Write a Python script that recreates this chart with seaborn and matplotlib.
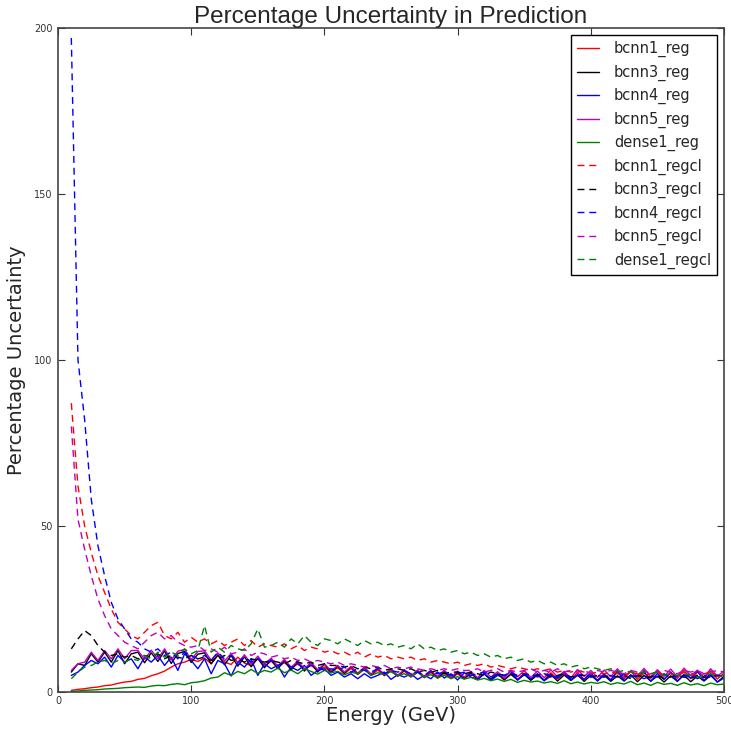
import numpy as np
import pandas as pd
import matplotlib
matplotlib.use("Agg")
import matplotlib.pyplot as plt
import seaborn as sns

# Energy grid (GeV)
energy = np.arange(10, 501, 5)

# Percentage uncertainty per model: regression heads (solid)
bcnn1_reg = [
    0.5, 0.8, 1.0, 1.3, 1.5, 1.9, 2.1, 2.6, 3.0, 3.2,
    3.8, 4.1, 4.9, 5.5, 6.3, 7.5, 8.5, 9.0, 9.8, 9.2,
    10.2, 8.5, 11.0, 9.0, 8.3, 10.5, 8.7, 8.0, 10.1, 7.7,
    9.3, 7.4, 8.9, 7.0, 8.5, 6.7, 8.1, 6.3, 7.5, 6.0,
    7.3, 5.5, 7.1, 5.3, 6.8, 5.0, 6.6, 4.9, 6.4, 4.7,
    6.3, 4.5, 6.1, 4.3, 5.9, 4.1, 5.7, 4.0, 5.5, 3.9,
    5.6, 3.8, 5.4, 3.7, 5.5, 3.6, 5.3, 3.8, 5.7, 3.7,
    5.4, 3.6, 5.8, 3.9, 5.5, 3.5, 5.9, 3.8, 5.3, 3.6,
    5.5, 3.7, 6.0, 4.0, 6.3, 3.8, 5.7, 4.1, 6.5, 3.9,
    5.8, 4.1, 6.6, 4.0, 6.0, 4.3, 6.4, 3.9, 5.7,
]
bcnn3_reg = [
    6.0, 8.5, 8.0, 11.5, 9.0, 12.0, 9.0, 12.5, 8.5, 11.5,
    12.0, 8.8, 11.8, 9.2, 12.4, 8.6, 11.6, 12.2, 8.9, 11.4,
    11.8, 8.5, 11.2, 8.2, 11.0, 7.8, 10.6, 7.6, 10.2, 7.3,
    9.8, 7.0, 9.5, 6.6, 9.2, 6.3, 8.8, 6.0, 8.4, 5.8,
    7.8, 5.7, 7.6, 5.4, 7.4, 5.2, 7.1, 5.1, 6.9, 4.9,
    6.6, 4.8, 6.5, 4.5, 6.3, 4.3, 6.1, 4.2, 5.9, 4.1,
    5.8, 3.9, 5.6, 3.8, 5.5, 3.7, 5.4, 3.6, 5.3, 3.5,
    5.2, 3.4, 5.3, 3.3, 5.1, 3.5, 5.2, 3.2, 5.0, 3.4,
    5.1, 3.2, 4.9, 3.3, 5.2, 3.1, 5.0, 3.3, 4.8, 3.0,
    4.9, 3.2, 5.1, 3.1, 4.8, 3.3, 5.0, 3.0, 4.7,
]
bcnn4_reg = [
    5.0, 6.0, 8.0, 9.5, 8.5, 10.5, 7.5, 11.0, 9.0, 10.0,
    7.0, 10.5, 9.0, 11.0, 8.0, 10.5, 6.5, 11.5, 9.5, 7.0,
    10.0, 5.5, 9.5, 8.5, 4.8, 9.0, 7.5, 10.0, 5.0, 8.5,
    7.0, 8.0, 4.5, 7.5, 6.5, 8.0, 5.0, 6.5, 7.0, 5.0,
    6.0, 4.5, 5.5, 4.0, 5.5, 4.2, 5.0, 6.0, 3.8, 5.2,
    4.5, 5.5, 3.8, 5.0, 4.0, 6.0, 4.2, 5.5, 3.6, 5.8,
    4.5, 3.8, 5.5, 3.5, 5.0, 4.4, 6.2, 3.6, 5.3, 4.0,
    5.5, 3.4, 4.8, 4.2, 6.0, 3.5, 5.0, 3.8, 5.8, 3.3,
    5.2, 3.6, 6.4, 3.4, 5.0, 4.5, 6.2, 3.2, 5.6, 3.8,
    6.0, 3.3, 5.4, 4.2, 6.3, 3.5, 5.5, 3.0, 4.2,
]
bcnn5_reg = [
    6.5, 8.5, 9.0, 12.0, 9.5, 12.5, 10.0, 13.0, 10.0, 12.5,
    12.5, 9.8, 12.6, 10.0, 13.0, 9.6, 12.3, 12.8, 9.8, 12.2,
    12.4, 9.6, 11.8, 9.3, 11.6, 8.8, 11.2, 8.5, 10.8, 8.3,
    10.2, 7.8, 9.8, 7.4, 9.3, 7.0, 8.9, 6.7, 8.5, 6.4,
    8.0, 6.0, 7.7, 5.7, 7.4, 5.4, 7.1, 5.3, 6.9, 5.0,
    6.7, 4.8, 6.6, 4.6, 6.4, 4.7, 6.6, 4.4, 6.3, 4.5,
    6.2, 4.3, 6.5, 4.5, 6.1, 4.2, 6.6, 4.6, 6.4, 4.4,
    6.3, 4.3, 6.7, 4.5, 6.2, 4.2, 6.8, 4.7, 6.5, 4.4,
    6.6, 4.6, 7.0, 4.4, 6.4, 4.8, 7.1, 4.5, 6.7, 4.7,
    6.9, 4.5, 7.2, 4.9, 6.6, 4.4, 7.0, 4.7, 6.4,
]
dense1_reg = [
    0.2, 0.3, 0.5, 0.6, 0.7, 0.9, 1.0, 1.1, 1.3, 1.4,
    1.5, 1.4, 1.8, 2.0, 1.9, 2.3, 2.5, 2.2, 2.8, 3.0,
    3.4, 4.2, 4.5, 5.8, 5.0, 6.2, 5.5, 6.8, 5.6, 6.5,
    6.0, 7.2, 5.8, 6.6, 5.5, 7.0, 6.2, 5.4, 6.5, 5.8,
    6.2, 5.2, 6.0, 5.5, 6.8, 5.0, 5.8, 5.3, 6.1, 4.9,
    5.5, 4.6, 5.9, 4.5, 5.2, 4.3, 5.0, 4.1, 4.6, 3.9,
    4.4, 3.6, 4.1, 3.4, 3.9, 3.2, 3.8, 2.9, 3.5, 3.0,
    3.3, 2.7, 3.1, 2.6, 3.4, 2.5, 3.0, 2.4, 2.9, 2.6,
    3.1, 2.3, 2.8, 2.4, 3.2, 2.2, 2.7, 2.0, 2.9, 2.3,
    2.6, 2.0, 2.8, 2.1, 2.5, 1.9, 2.7, 2.2, 2.4,
]

# Regression + classification heads (dashed)
bcnn1_regcl = [
    87, 62, 50, 42, 35, 30, 25, 21, 19, 17,
    16, 18, 20, 21, 17, 16, 18, 15, 16.5, 15,
    16, 14.5, 15.5, 14, 15, 16, 14, 15.5, 13.5, 14.5,
    14, 13.5, 14.5, 13, 14, 12.5, 13.5, 13, 12, 12.5,
    11.5, 12, 11, 12, 10.5, 11.5, 10.5, 11, 10, 10.5,
    10, 10.5, 9.5, 10, 9, 9.5, 9, 8.5, 9, 8,
    8.5, 8, 8.5, 7.5, 8, 7.5, 7, 7.5, 7, 6.5,
    7, 6.5, 7, 6, 6.5, 6, 6.5, 6, 5.5, 6,
    5.5, 6, 5.5, 5, 6, 5.5, 5, 5.5, 6, 5,
    5.5, 5, 6, 5.5, 5, 5.5, 6, 5, 5.5,
]
bcnn3_regcl = [
    13, 16, 18.5, 17, 14, 12, 11, 11.5, 10.5, 11,
    10, 11, 10.5, 11.5, 10, 11, 10.5, 10, 11, 10,
    10.5, 9.5, 10, 11, 9.5, 10, 9, 10, 9.5, 9,
    9.5, 9, 8.5, 9.5, 9, 8.5, 9, 8, 8.5, 8,
    8, 7.5, 8, 7, 7.5, 7, 7.5, 6.5, 7, 7,
    6.5, 7, 6, 6.5, 6, 6.5, 5.5, 6, 6, 5.5,
    6, 5.5, 5, 6, 5.5, 5, 5.5, 5, 5.5, 5,
    5, 5.5, 4.5, 5, 5.5, 4.5, 5, 5, 4.5, 5,
    4.5, 5, 4.5, 5, 4, 5, 4.5, 4.5, 5, 4,
    4.5, 5, 4.5, 4, 5, 4.5, 4.5, 5, 4.5,
]
bcnn4_regcl = [
    197, 100, 82, 58, 44, 35, 27, 22, 19, 16,
    15, 13, 12, 13, 11, 12, 10, 12, 11, 10,
    11, 9.5, 12, 10, 11, 9, 10.5, 9, 10, 8.5,
    9.5, 8, 9, 7.5, 8.5, 7, 8, 7.5, 6.5, 7,
    6.5, 7.5, 6, 7, 6.5, 6, 7, 5.5, 6.5, 6,
    6.5, 5.5, 6, 5, 6.5, 5.5, 6, 5, 5.5, 6,
    5, 5.5, 6, 4.5, 5.5, 5, 6, 4.5, 5, 5.5,
    4.5, 5.5, 5, 4.5, 5.5, 4, 5, 5.5, 4.5, 5,
    4.5, 5, 4, 5.5, 4.5, 5, 4, 5, 4.5, 5.5,
    4, 5, 4.5, 5.5, 4, 5, 4.5, 5, 4.5,
]
bcnn5_regcl = [
    80, 52, 43, 35, 28, 23, 19, 17, 15, 14,
    13, 15, 17, 18, 16, 17, 15, 14, 13.5, 14,
    12.5, 13, 12, 13.5, 11.5, 12, 13, 11, 12, 11.5,
    10.5, 11, 10, 10.5, 9.5, 10, 9, 9.5, 9, 8.5,
    9, 8, 8.5, 8, 7.5, 8, 7.5, 8, 7, 7.5,
    7, 7.5, 7, 6.5, 7, 6.5, 7, 6.5, 7, 6.5,
    6.5, 7, 6, 6.5, 7, 6, 6.5, 6, 6.5, 7,
    6, 6.5, 6, 7, 6, 6.5, 6, 6.5, 5.5, 6.5,
    6, 6.5, 6, 5.5, 6.5, 6, 6.5, 5.5, 6, 6.5,
    6, 5.5, 6.5, 6, 6.5, 5.5, 6, 6.5, 6,
]
dense1_regcl = [
    4, 6, 7.5, 8, 9, 9.5, 8.5, 9.5, 9, 10,
    9.5, 11, 10, 12, 10.5, 12, 11, 13, 11.5, 12.5,
    20, 12, 13.5, 12, 14, 13, 12.5, 14.5, 19, 13.5,
    14, 15, 13.5, 16, 14.5, 17, 15, 14, 16, 15.5,
    14.5, 16, 15, 14, 15.5, 14.5, 15, 14, 14.5, 13.5,
    14, 13, 14.5, 13, 13.5, 12.5, 13, 12, 12.5, 11.5,
    12, 11, 11.5, 10.5, 11, 10, 10.5, 9.5, 10, 9,
    9.5, 8.5, 9, 8, 8.5, 7.5, 8, 7, 7.5, 7,
    6.5, 7, 6, 6.5, 6, 5.5, 6, 5.5, 6, 5,
    5.5, 5, 5.5, 5, 4.5, 5, 5.5, 4.5, 5,
]

series = [
    ("bcnn1_reg", bcnn1_reg, "r", "-"),
    ("bcnn3_reg", bcnn3_reg, "k", "-"),
    ("bcnn4_reg", bcnn4_reg, "b", "-"),
    ("bcnn5_reg", bcnn5_reg, "m", "-"),
    ("dense1_reg", dense1_reg, "g", "-"),
    ("bcnn1_regcl", bcnn1_regcl, "r", "--"),
    ("bcnn3_regcl", bcnn3_regcl, "k", "--"),
    ("bcnn4_regcl", bcnn4_regcl, "b", "--"),
    ("bcnn5_regcl", bcnn5_regcl, "m", "--"),
    ("dense1_regcl", dense1_regcl, "g", "--"),
]
palette = {"r": (1.0, 0.0, 0.0), "k": (0.0, 0.0, 0.0), "b": (0.0, 0.0, 1.0),
           "m": (0.75, 0.0, 0.75), "g": (0.0, 0.5, 0.0)}

df = pd.concat(
    [pd.DataFrame({"energy": energy, "uncert": vals, "model": name})
     for name, vals, _, _ in series],
    ignore_index=True,
)

sns.set_style("white")
plt.rcParams.update({
    "xtick.direction": "in",
    "ytick.direction": "in",
    "xtick.top": True,
    "ytick.right": True,
    "xtick.bottom": True,
    "ytick.left": True,
    "xtick.major.size": 5,
    "ytick.major.size": 5,
})

fig = plt.figure(figsize=(7.31, 7.30), dpi=100)
ax = fig.add_axes([58 / 731, 38 / 730, 666 / 731, 664 / 730])

for name, _, color, ls in series:
    style = "-" if ls == "-" else (0, (5, 3.5))
    sns.lineplot(data=df[df["model"] == name], x="energy", y="uncert",
                 color=palette[color], linestyle=style, linewidth=1.0,
                 label=name, ax=ax)

ax.set_xlim(0, 500)
ax.set_ylim(0, 200)
ax.set_xticks([0, 100, 200, 300, 400, 500])
ax.set_yticks([0, 50, 100, 150, 200])
tick_font = ["Liberation Sans Narrow", "DejaVu Sans"]
for lab in ax.get_xticklabels() + ax.get_yticklabels():
    lab.set_fontsize(7)
    lab.set_family(tick_font)
ax.tick_params(axis="x", which="major", colors="#333333", pad=3)
ax.tick_params(axis="y", which="major", colors="#333333", pad=4)

for sp in ax.spines.values():
    sp.set_color("#444444")
    sp.set_linewidth(1.2)

ax.set_title("Percentage Uncertainty in Prediction", fontsize=17.5,
             family=["Liberation Sans", "DejaVu Sans"], pad=3)
ax.set_xlabel("Energy (GeV)", fontsize=14, family=["DejaVu Sans"], labelpad=0)
ax.set_ylabel("Percentage Uncertainty", fontsize=14, family=["DejaVu Sans"], labelpad=6)

leg = ax.legend(loc="upper right", fontsize=10.5, frameon=True, fancybox=False,
                edgecolor="black", framealpha=1, handlelength=1.5,
                handletextpad=1.0, borderaxespad=0.5, labelspacing=0.5,
                borderpad=0.4)
leg.get_frame().set_linewidth(1.0)

fig.savefig("out.png", dpi=100, facecolor="white")
